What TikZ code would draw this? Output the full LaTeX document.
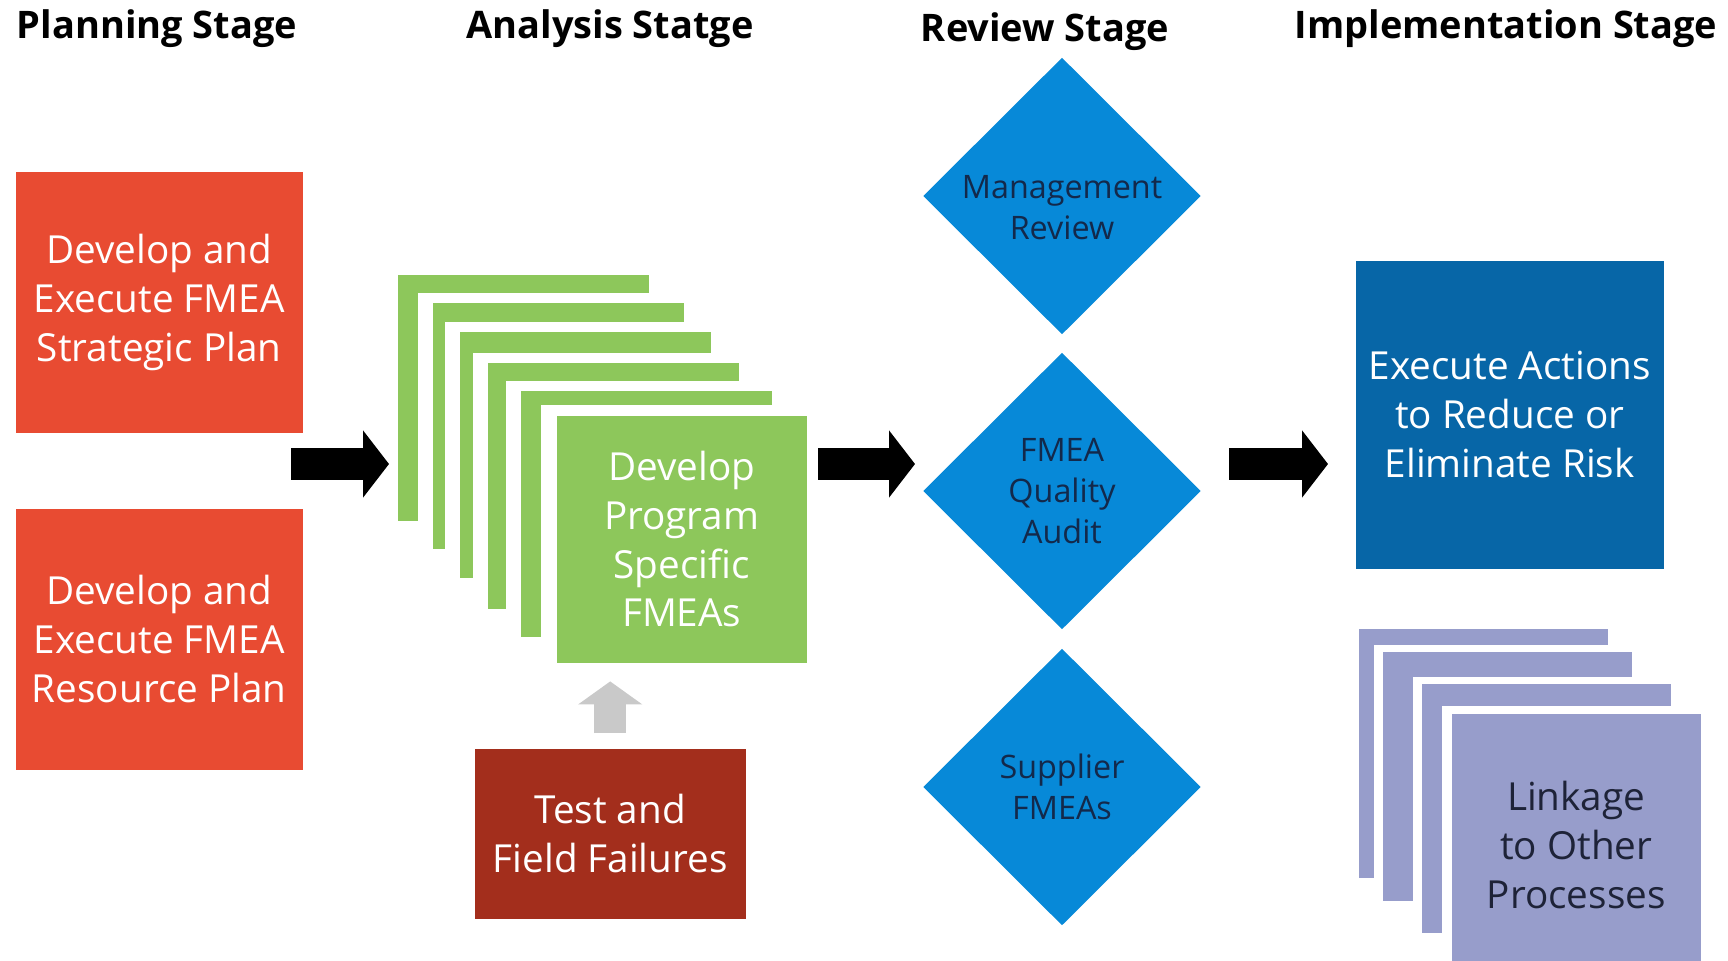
\documentclass[tikz,border=0pt]{standalone}
\usepackage{fontspec}
\setmainfont{Open Sans}
\usetikzlibrary{shapes.geometric,arrows.meta}

\definecolor{planred}{HTML}{E84B32}
\definecolor{testred}{HTML}{A32E1C}
\definecolor{fmeagreen}{HTML}{8DC75B}
\definecolor{reviewblue}{HTML}{0789D8}
\definecolor{reviewtext}{HTML}{13294B}
\definecolor{actblue}{HTML}{0766A7}
\definecolor{linkpurple}{HTML}{979DCB}
\definecolor{linktext}{HTML}{1E2338}
\definecolor{feedgrey}{HTML}{C9C9C9}

\tikzset{
	stagehead/.style={font=\bfseries\fontsize{10.8}{13}\selectfont, text=black},
	boxtext/.style={align=center, inner sep=0pt, font=\fontsize{11}{13.9}\selectfont},
	planbox/.style={boxtext, fill=planred, text=white, minimum width=28.7mm, minimum height=26.1mm},
	fmeabox/.style={boxtext, fill=fmeagreen, text=white, minimum width=25mm, minimum height=24.7mm},
	testbox/.style={boxtext, fill=testred, text=white, minimum width=27.1mm, minimum height=17mm},
	actbox/.style={boxtext, fill=actblue, text=white, minimum width=30.8mm, minimum height=30.8mm},
	linkbox/.style={boxtext, fill=linkpurple, text=linktext, minimum width=24.9mm, minimum height=26.2mm},
	reviewlabel/.style={text=reviewtext, align=center, inner sep=0pt, font=\fontsize{9.2}{11.7}\selectfont},
	reviewdia/.style={reviewlabel, diamond, fill=reviewblue, minimum width=27.8mm, minimum height=27.7mm},
	blockarrow/.style={line width=3.2mm, -{Triangle[length=2.6mm, width=6.6mm]}},
	feedarrow/.style={feedgrey, line width=3.2mm, -{Triangle[length=2.3mm, width=6.3mm]}}
}

\begin{document}
\begin{tikzpicture}[x=0.1mm, y=-0.1mm]
	\useasboundingbox (0,0) rectangle (1728,960);
	
	% stage titles
	\node[stagehead] (hplan) at (157,29) {Planning Stage};
	\node[stagehead] (hanalysis) at (610,29) {Analysis Statge};
	\node[stagehead] (hreview) at (1045,32) {Review Stage};
	\node[stagehead] (himpl) at (1506,29) {Implementation Stage};
	
	% planning
	\node[planbox, anchor=north west] (plan1) at (15,171) {Develop and\\Execute FMEA\\Strategic Plan};
	\node[planbox, anchor=north west] (plan2) at (15,508) {Develop and\\Execute FMEA\\Resource Plan};
	
	% analysis, stacked sheets
	\foreach \lx/\ly in {398/275, 433/303, 460/332, 488/363, 521/391}{
		\fill[white] (\lx-15,\ly-10) rectangle ++(266,256);
		\fill[fmeagreen] (\lx,\ly) rectangle ++(251,246);
	}
	\fill[white] (541,405) rectangle ++(265,257);
	\node[fmeabox, anchor=north west] (dev) at (556,415) {Develop\\Program\\Specific\\FMEAs};
	
	\node[testbox, anchor=north west] (test) at (474,748) {Test and\\Field Failures};
	\draw[feedarrow, shorten <=1.5mm, shorten >=1.8mm] (test.north) -- (test.north |- dev.south);
	
	% review
	\node[reviewdia] (mgmt) at (1062,196) {};
	\node[reviewlabel] (mgmttext) at ([yshift=-1.2mm]mgmt.center) {Management\\Review};
	\node[reviewdia] (audit) at (1062,491) {FMEA\\Quality\\Audit};
	\node[reviewdia] (supp) at (1062,787) {Supplier\\FMEAs};
	
	% implementation
	\node[actbox, anchor=north west] (act) at (1355,260) {Execute Actions\\to Reduce or\\Eliminate Risk};
	
	\foreach \lx/\ly in {1359/629, 1383/652, 1422/684}{
		\fill[white] (\lx-9,\ly-7) rectangle ++(258,256);
		\fill[linkpurple] (\lx,\ly) rectangle ++(249,249);
	}
	\fill[white] (1442,706) rectangle ++(258,269);
	\node[linkbox, anchor=north west] (link) at (1451,713) {Linkage\\to Other\\Processes};
	
	% stage arrows
	\coordinate (a1s) at (291,464);
	\coordinate (a1e) at (389,464);
	\coordinate (a2s) at (818,464);
	\coordinate (a2e) at (915,464);
	\coordinate (a3s) at (1229,464);
	\coordinate (a3e) at (1328,464);
	\draw[blockarrow] (a1s) -- (a1e);
	\draw[blockarrow] (a2s) -- (a2e);
	\draw[blockarrow] (a3s) -- (a3e);
\end{tikzpicture}
\end{document}
